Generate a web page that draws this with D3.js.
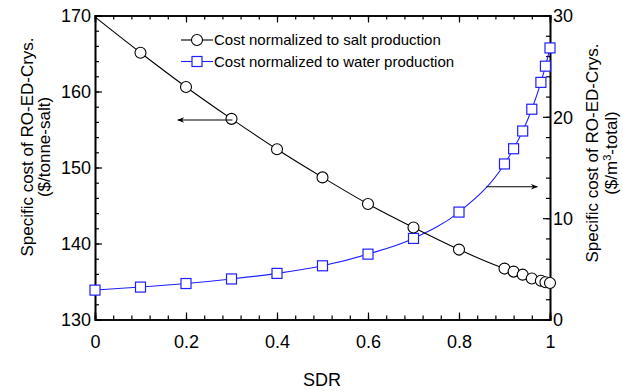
<!DOCTYPE html>
<html>
<head>
<meta charset="utf-8">
<script src="https://cdn.jsdelivr.net/npm/d3@7"></script>
<style>
  html, body { margin: 0; padding: 0; background: #fff; }
  svg { display: block; font-family: "Liberation Sans", Arial, sans-serif; }
</style>
</head>
<body>
<svg id="chart" width="623" height="391"></svg>
<script>
// Solid discharge ratio (SDR)
const sdr = [0, 0.1, 0.2, 0.3, 0.4, 0.5, 0.6, 0.7, 0.8, 0.9, 0.92, 0.94, 0.96, 0.98, 0.99, 1.0];
// Cost normalized to salt production ($/tonne-salt)
const costSalt = [169.8, 165.1, 160.6, 156.4, 152.4, 148.7, 145.2, 142.1, 139.2, 136.7, 136.3, 135.9, 135.4, 135.1, 134.9, 134.8];
// Cost normalized to water production ($/m3-total)
const costWater = [2.9, 3.2, 3.55, 4.0, 4.55, 5.3, 6.45, 8.0, 10.6, 15.35, 16.85, 18.6, 20.75, 23.4, 25.0, 26.8];

const xTicks = [0, 0.2, 0.4, 0.6, 0.8, 1];
const leftTicks = [130, 140, 150, 160, 170];
const rightTicks = [0, 10, 20, 30];
const legendLabels = ["Cost normalized to salt production", "Cost normalized to water production"];

const svg = d3.select("#chart");
const m = { left: 95, right: 550, top: 15.5, bottom: 319.5 };

const x = d3.scaleLinear().domain([0, 1]).range([m.left, m.right]);
const yL = d3.scaleLinear().domain([130, 170]).range([m.bottom, m.top]);
const yR = d3.scaleLinear().domain([0, 30]).range([m.bottom, m.top]);

const blue = "#1f1fff";
const tickFont = 18;
const titleFont = 17;

// Minor/major tick helper: draws inward ticks and optional labels
function axis(gen, major, minor, pos, labels) {
  const g = svg.append("g").attr("transform", pos);
  g.call(gen.tickValues(minor).tickSize(4).tickFormat(""));
  const g2 = svg.append("g").attr("transform", pos);
  g2.call(gen.tickValues(major).tickSize(7).tickFormat(labels ? d3.format("") : ""));
  [g, g2].forEach(s => {
    s.select(".domain").attr("stroke", "#000").attr("stroke-width", 1.6);
    s.selectAll(".tick line").attr("stroke", "#000").attr("stroke-width", 1.2);
  });
  g2.selectAll(".tick text").attr("font-size", tickFont).attr("fill", "#000");
  return g2;
}

const xMinor = d3.range(0, 1.0001, 0.04).map(v => +v.toFixed(2));
const lMinor = d3.range(130, 170.01, 2);
const rMinor = d3.range(0, 30.01, 2);

// bottom axis (ticks pointing up into the plot)
const gb = axis(d3.axisTop(x), xTicks, xMinor, `translate(0,${m.bottom})`, true);
gb.selectAll(".tick text").attr("y", 28).attr("dy", 0);
// top axis
axis(d3.axisBottom(x), xTicks, xMinor, `translate(0,${m.top})`, false);
// left axis (ticks pointing right)
const gl = axis(d3.axisRight(yL), leftTicks, lMinor, `translate(${m.left},0)`, true);
gl.selectAll(".tick text").attr("x", -4).attr("text-anchor", "end").attr("dy", "0.35em");
// right axis (ticks pointing left)
const gr = axis(d3.axisLeft(yR), rightTicks, rMinor, `translate(${m.right},0)`, true);
gr.selectAll(".tick text").attr("x", 3).attr("text-anchor", "start").attr("dy", "0.35em");

// series lines
const lineSalt = d3.line().x((d, i) => x(sdr[i])).y(d => yL(d)).curve(d3.curveMonotoneX);
const lineWater = d3.line().x((d, i) => x(sdr[i])).y(d => yR(d)).curve(d3.curveMonotoneX);

const plot = svg.append("g");
plot.append("path").datum(costWater).attr("d", lineWater)
  .attr("fill", "none").attr("stroke", blue).attr("stroke-width", 1.1);
plot.append("path").datum(costSalt).attr("d", lineSalt)
  .attr("fill", "none").attr("stroke", "#000").attr("stroke-width", 1.1);

// water markers (squares)
plot.selectAll("rect.w").data(costWater).join("rect").attr("class", "w")
  .attr("x", (d, i) => x(sdr[i]) - 5).attr("y", d => yR(d) - 5)
  .attr("width", 10).attr("height", 10)
  .attr("fill", "#fff").attr("stroke", blue).attr("stroke-width", 1.2);

// salt markers (circles); the SDR=0 point is drawn as line only
plot.selectAll("circle.s").data(costSalt.slice(1)).join("circle").attr("class", "s")
  .attr("cx", (d, i) => x(sdr[i + 1])).attr("cy", d => yL(d)).attr("r", 5.5)
  .attr("fill", "#fff").attr("stroke", "#000").attr("stroke-width", 1.1);

// arrows pointing to each series' axis
const defs = svg.append("defs");
defs.append("marker").attr("id", "ah").attr("viewBox", "0 0 10 10")
  .attr("refX", 9).attr("refY", 5).attr("markerWidth", 9).attr("markerHeight", 7)
  .attr("markerUnits", "userSpaceOnUse").attr("orient", "auto")
  .append("path").attr("d", "M0,1 L10,5 L0,9 L3,5 Z").attr("fill", "#000");

svg.append("line")
  .attr("x1", x(0.302)).attr("y1", yL(156.25)).attr("x2", x(0.182)).attr("y2", yL(156.25))
  .attr("stroke", "#000").attr("stroke-width", 1.1).attr("marker-end", "url(#ah)");
svg.append("line")
  .attr("x1", x(0.86)).attr("y1", yR(13.1)).attr("x2", x(0.972)).attr("y2", yR(13.1))
  .attr("stroke", "#000").attr("stroke-width", 1.1).attr("marker-end", "url(#ah)");

// legend
const lg = svg.append("g").attr("transform", "translate(181,40)");
[0, 1].forEach(i => {
  const row = lg.append("g").attr("transform", `translate(0,${i * 21.5})`);
  const c = i === 0 ? "#000" : blue;
  row.append("line").attr("x1", 0).attr("x2", 32).attr("y1", 0).attr("y2", 0)
    .attr("stroke", c).attr("stroke-width", 1.1);
  if (i === 0) {
    row.append("circle").attr("cx", 16).attr("cy", 0).attr("r", 5.5)
      .attr("fill", "#fff").attr("stroke", c).attr("stroke-width", 1.1);
  } else {
    row.append("rect").attr("x", 11).attr("y", -5).attr("width", 10).attr("height", 10)
      .attr("fill", "#fff").attr("stroke", c).attr("stroke-width", 1.2);
  }
  row.append("text").attr("x", 33).attr("y", 0).attr("dy", "0.35em")
    .attr("font-size", 15).attr("fill", "#000").text(legendLabels[i]);
});

// axis titles
svg.append("text").attr("x", 322).attr("y", 386).attr("text-anchor", "middle")
  .attr("font-size", 18).attr("fill", "#000").text("SDR");

const lt = svg.append("text").attr("transform", "translate(33,147) rotate(-90)")
  .attr("text-anchor", "middle").attr("font-size", titleFont).attr("fill", "#000");
lt.append("tspan").attr("x", 0).attr("y", 0).text("Specific cost of RO-ED-Crys.");
lt.append("tspan").attr("x", 0).attr("y", 16.5).text("($/tonne-salt)");

const rt = svg.append("text").attr("transform", "translate(598,153) rotate(-90)")
  .attr("text-anchor", "middle").attr("font-size", titleFont).attr("fill", "#000");
rt.append("tspan").attr("x", 0).attr("y", 0).text("Specific cost of RO-ED-Crys.");
const rt2 = rt.append("tspan").attr("x", 0).attr("y", 18.5);
rt2.append("tspan").text("($/m");
rt2.append("tspan").attr("dy", -6).attr("font-size", 11).text("3");
rt2.append("tspan").attr("dy", 6).text("-total)");
</script>
</body>
</html>
